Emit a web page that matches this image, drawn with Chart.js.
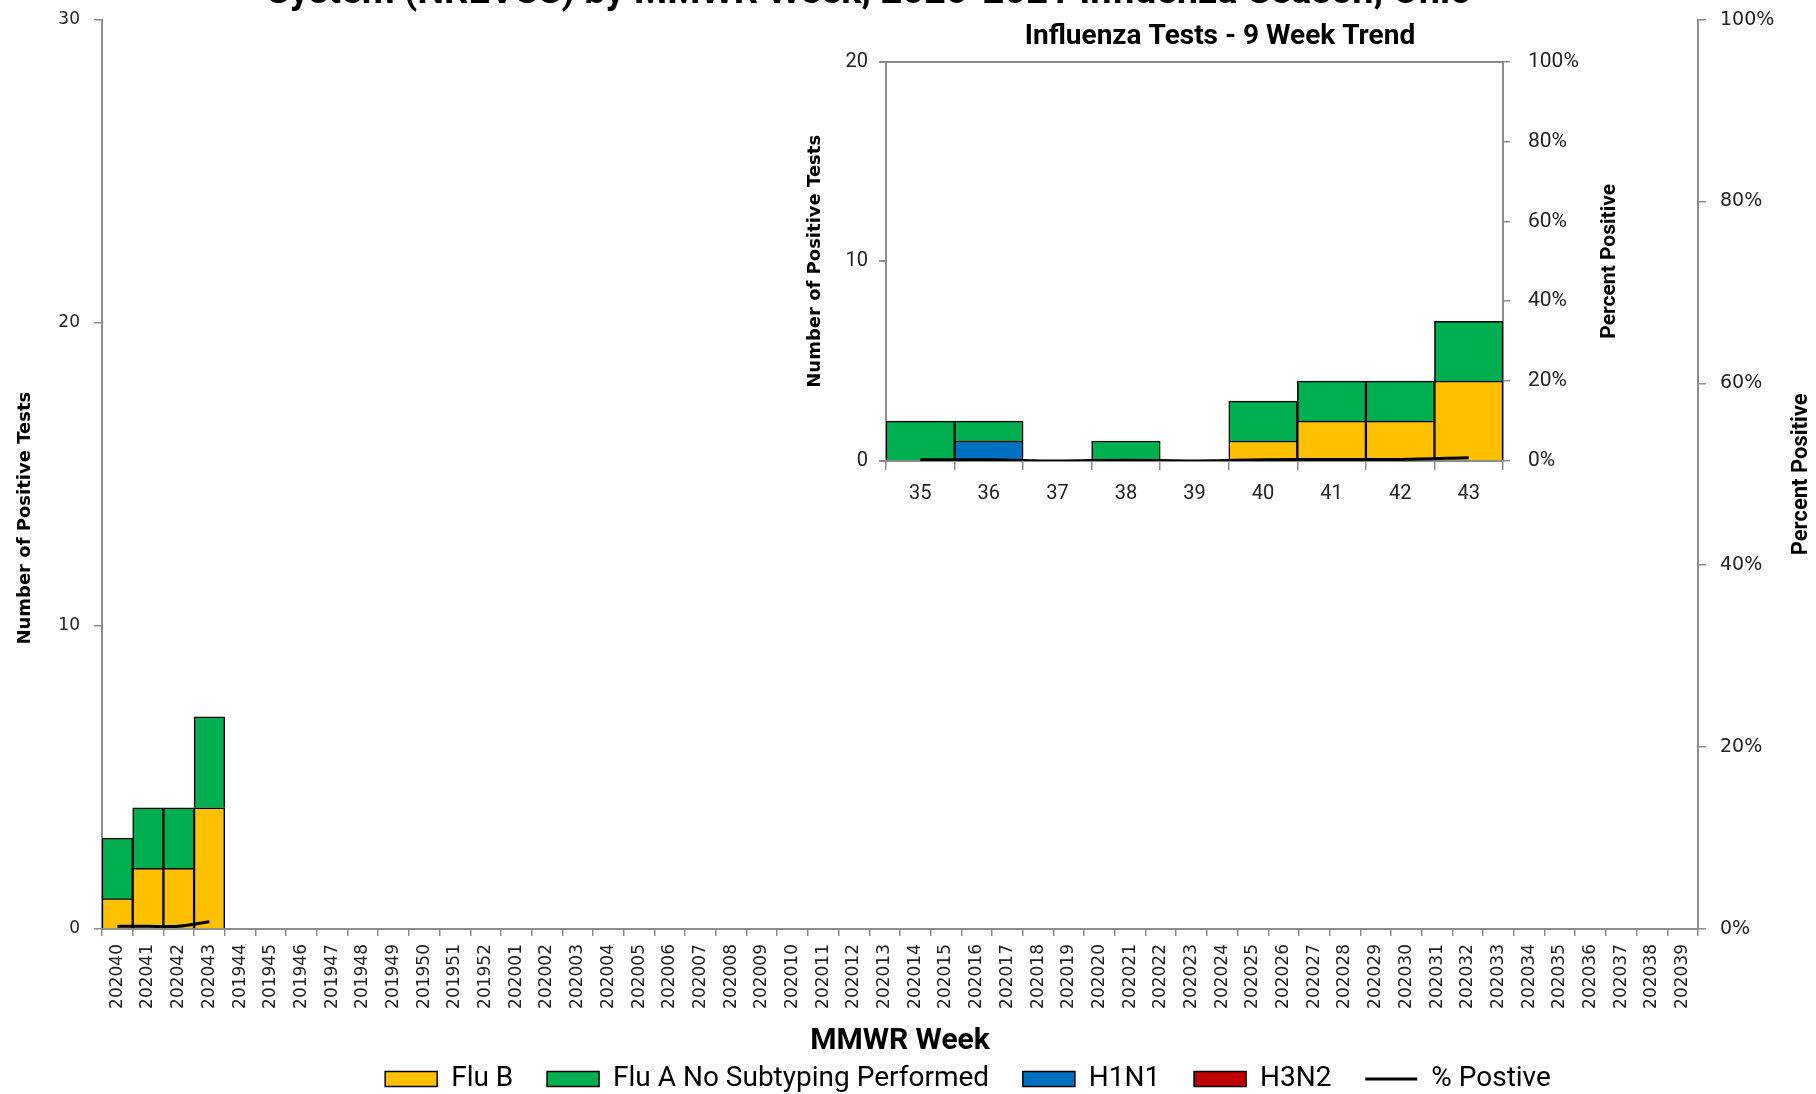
<!DOCTYPE html>
<html>
<head>
<meta charset="utf-8">
<script src="https://cdn.jsdelivr.net/npm/chart.js@4.4.1/dist/chart.umd.min.js"></script>
<style>
html, body { margin: 0; padding: 0; background: #fff; overflow: hidden; }
#wrap { position: relative; width: 1816px; height: 1094px; overflow: hidden; }
#main { position: absolute; left: 0; top: -29px; }
#inset { position: absolute; left: 790px; top: 8px; }
</style>
</head>
<body>
<div id="wrap">
  <canvas id="main" width="1816" height="1132"></canvas>
  <canvas id="inset" width="860" height="510"></canvas>
</div>
<script>
// ------------------------------- DATA

var weeks = ['202040','202041','202042','202043',
    '201944','201945','201946','201947','201948','201949','201950','201951','201952',
    '202001','202002','202003','202004','202005','202006','202007','202008','202009','202010',
    '202011','202012','202013','202014','202015','202016','202017','202018','202019','202020',
    '202021','202022','202023','202024','202025','202026','202027','202028','202029','202030',
    '202031','202032','202033','202034','202035','202036','202037','202038','202039']

var fluB = [1,2,2,4]
var fluA = [2,2,2,3]
var h1n1 = [0,0,0,0]
var h3n2 = [0,0,0,0]
var pctPos = [0.3,0.3,0.3,0.8]

var trendWeeks = ['35','36','37','38','39','40','41','42','43']
var trendFluB = [0,0,0,0,0,1,2,2,4]
var trendFluA = [2,1,0,1,0,2,2,2,3]
var trendH1N1 = [0,1,0,0,0,0,0,0,0]
var trendH3N2 = [0,0,0,0,0,0,0,0,0]
var trendPct = [0.3,0.3,0,0.2,0,0.3,0.4,0.4,0.8]

var mainTitle = 'System (NREVSS) by MMWR Week, 2020-2021 Influenza Season, Ohio'
var trendTitle = 'Influenza Tests - 9 Week Trend'

// ------------------------------- STYLE

var colB = '#FFC000'
var colA = '#00B050'
var colH1 = '#0070C0'
var colH3 = '#C00000'
var axisGray = '#8c8c8c'
var narrow = '"Roboto", sans-serif'
var wide = '"DejaVu Sans", sans-serif'

Chart.defaults.color = '#000'

function pad(arr, n){
    // fill the rest of the season with nothing
    let out = arr.slice()
    while(out.length < n) out.push(null)
    return out
}

function barSet(label, data, color){
    return {
        type: 'bar', label: label, data: data,
        backgroundColor: color, borderColor: '#000', borderWidth: 1.5,
        stack: 's', yAxisID: 'y', order: 1,
        categoryPercentage: 1, barPercentage: 1
    }
}

function lineSet(data){
    return {
        type: 'line', label: '% Postive', data: data,
        borderColor: '#000', backgroundColor: '#000', borderWidth: 3,
        pointRadius: 0, yAxisID: 'y1', order: 0, tension: 0.3
    }
}

var legendOrder = ['Flu B','Flu A No Subtyping Performed','H1N1','H3N2','% Postive']

function legendItems(chart){
    let items = chart.data.datasets.map((ds,i) => ({
        text: ds.label,
        fillStyle: ds.backgroundColor,
        strokeStyle: '#000',
        lineWidth: ds.type == 'line' ? 3 : 1.5,
        pointStyle: ds.type == 'line' ? 'line' : 'rect',
        datasetIndex: i,
        hidden: false
    }))
    items.sort((a,b) => legendOrder.indexOf(a.text) - legendOrder.indexOf(b.text))
    // wider gaps between entries than the box padding gives
    items.forEach((it,i) => { if(i < items.length-1) it.text += '    ' })
    return items
}

// right hand axis title reads bottom to top like the left one
var sideTitle = {
    id: 'sideTitle',
    afterDraw(chart, args, opts){
        if(!opts.text) return
        let ctx = chart.ctx, a = chart.chartArea
        ctx.save()
        ctx.translate(a.right + opts.dist, (a.top + a.bottom)/2)
        ctx.rotate(-Math.PI/2)
        ctx.font = opts.font
        ctx.fillStyle = '#000'
        ctx.textAlign = 'center'
        ctx.textBaseline = 'middle'
        ctx.fillText(opts.text, 0, 0)
        ctx.restore()
    }
}

// ------------------------------- MAIN CHART

var n = weeks.length
new Chart(document.getElementById('main'), {
    data: {
        labels: weeks,
        datasets: [
            barSet('Flu B', pad(fluB,n), colB),
            barSet('H1N1', pad(h1n1,n), colH1),
            barSet('H3N2', pad(h3n2,n), colH3),
            barSet('Flu A No Subtyping Performed', pad(fluA,n), colA),
            lineSet(pad(pctPos,n))
        ]
    },
    plugins: [sideTitle],
    options: {
        responsive: false,
        animation: false,
        layout: { padding: { left: 0, right: -120, top: 0, bottom: 0 } },
        plugins: {
            title: {
                display: true, text: mainTitle + ' '.repeat(21),
                font: { family: narrow, size: 38, weight: 'bold' },
                padding: { top: 0, bottom: 3 }
            },
            legend: {
                position: 'bottom',
                labels: {
                    usePointStyle: true, pointStyleWidth: 52, boxHeight: 15,
                    padding: 6, font: { family: narrow, size: 28 },
                    generateLabels: legendItems
                }
            },
            tooltip: { enabled: false },
            sideTitle: { text: 'Percent Positive', dist: 103, font: 'bold 22px Roboto' }
        },
        scales: {
            x: {
                stacked: true, offset: true,
                afterFit: s => { s.height = 130 },
                grid: { offset: true, drawOnChartArea: false, tickLength: 7, color: axisGray, lineWidth: 1.5 },
                border: { color: axisGray, width: 2 },
                ticks: { autoSkip: false, minRotation: 90, maxRotation: 90, padding: 8,
                         font: { family: wide, size: 17 }, color: '#222' },
                title: { display: true, text: 'MMWR Week', padding: { top: 0, bottom: 0 },
                         font: { family: narrow, size: 30, weight: 'bold' } }
            },
            y: {
                stacked: true, min: 0, max: 30,
                afterFit: s => { s.width = 102 },
                grid: { drawOnChartArea: false, tickLength: 8, color: axisGray, lineWidth: 1.5 },
                border: { color: axisGray, width: 2 },
                ticks: { stepSize: 10, padding: 14, font: { family: wide, size: 17 }, color: '#222' },
                // title sits a little below the middle of the axis
                title: { display: true, text: 'Number of Positive Tests' + ' '.repeat(14), padding: { top: 15 },
                         font: { family: wide, size: 18, weight: 'bold' } }
            },
            y1: {
                position: 'right', min: 0, max: 100,
                afterFit: s => { s.width = 238 },
                grid: { drawOnChartArea: false, tickLength: 8, color: axisGray, lineWidth: 1.5 },
                border: { color: axisGray, width: 2 },
                ticks: { stepSize: 20, padding: 14, callback: v => v + '%',
                         font: { family: wide, size: 19 }, color: '#222' }
            }
        }
    }
})

// ------------------------------- 9 WEEK TREND

new Chart(document.getElementById('inset'), {
    data: {
        labels: trendWeeks,
        datasets: [
            barSet('Flu B', trendFluB, colB),
            barSet('H1N1', trendH1N1, colH1),
            barSet('H3N2', trendH3N2, colH3),
            barSet('Flu A No Subtyping Performed', trendFluA, colA),
            lineSet(trendPct)
        ]
    },
    plugins: [sideTitle],
    options: {
        responsive: false,
        animation: false,
        layout: { padding: 0 },
        plugins: {
            title: {
                display: true, text: trendTitle,
                font: { family: narrow, size: 28, weight: 'bold' },
                padding: { top: 12, bottom: 8 }
            },
            legend: { display: false },
            tooltip: { enabled: false },
            sideTitle: { text: 'Percent Positive', dist: 107, font: 'bold 21px Roboto' }
        },
        scales: {
            x: {
                stacked: true, offset: true,
                afterFit: s => { s.height = 57 },
                grid: { offset: true, drawOnChartArea: false, tickLength: 9, color: axisGray, lineWidth: 1.5 },
                border: { color: axisGray, width: 2 },
                ticks: { padding: 12, font: { family: narrow, size: 20 }, color: '#222' }
            },
            y: {
                stacked: true, min: 0, max: 20,
                afterFit: s => { s.width = 96 },
                grid: { drawOnChartArea: true, tickLength: 7, lineWidth: 2,
                        color: c => c.tick.value == 20 ? axisGray : 'rgba(0,0,0,0)', tickColor: axisGray },
                border: { color: axisGray, width: 2 },
                ticks: { stepSize: 10, padding: 11, font: { family: narrow, size: 20 }, color: '#222' },
                title: { display: true, text: 'Number of Positive Tests', padding: { top: 15 },
                         font: { family: wide, size: 18, weight: 'bold' } }
            },
            y1: {
                position: 'right', min: 0, max: 100,
                afterFit: s => { s.width = 147 },
                grid: { drawOnChartArea: false, tickLength: 7, color: axisGray, lineWidth: 1.5 },
                border: { color: axisGray, width: 2 },
                ticks: { stepSize: 20, padding: 18, callback: v => v + '%',
                         font: { family: narrow, size: 21 }, color: '#222' }
            }
        }
    }
})
</script>
</body>
</html>
